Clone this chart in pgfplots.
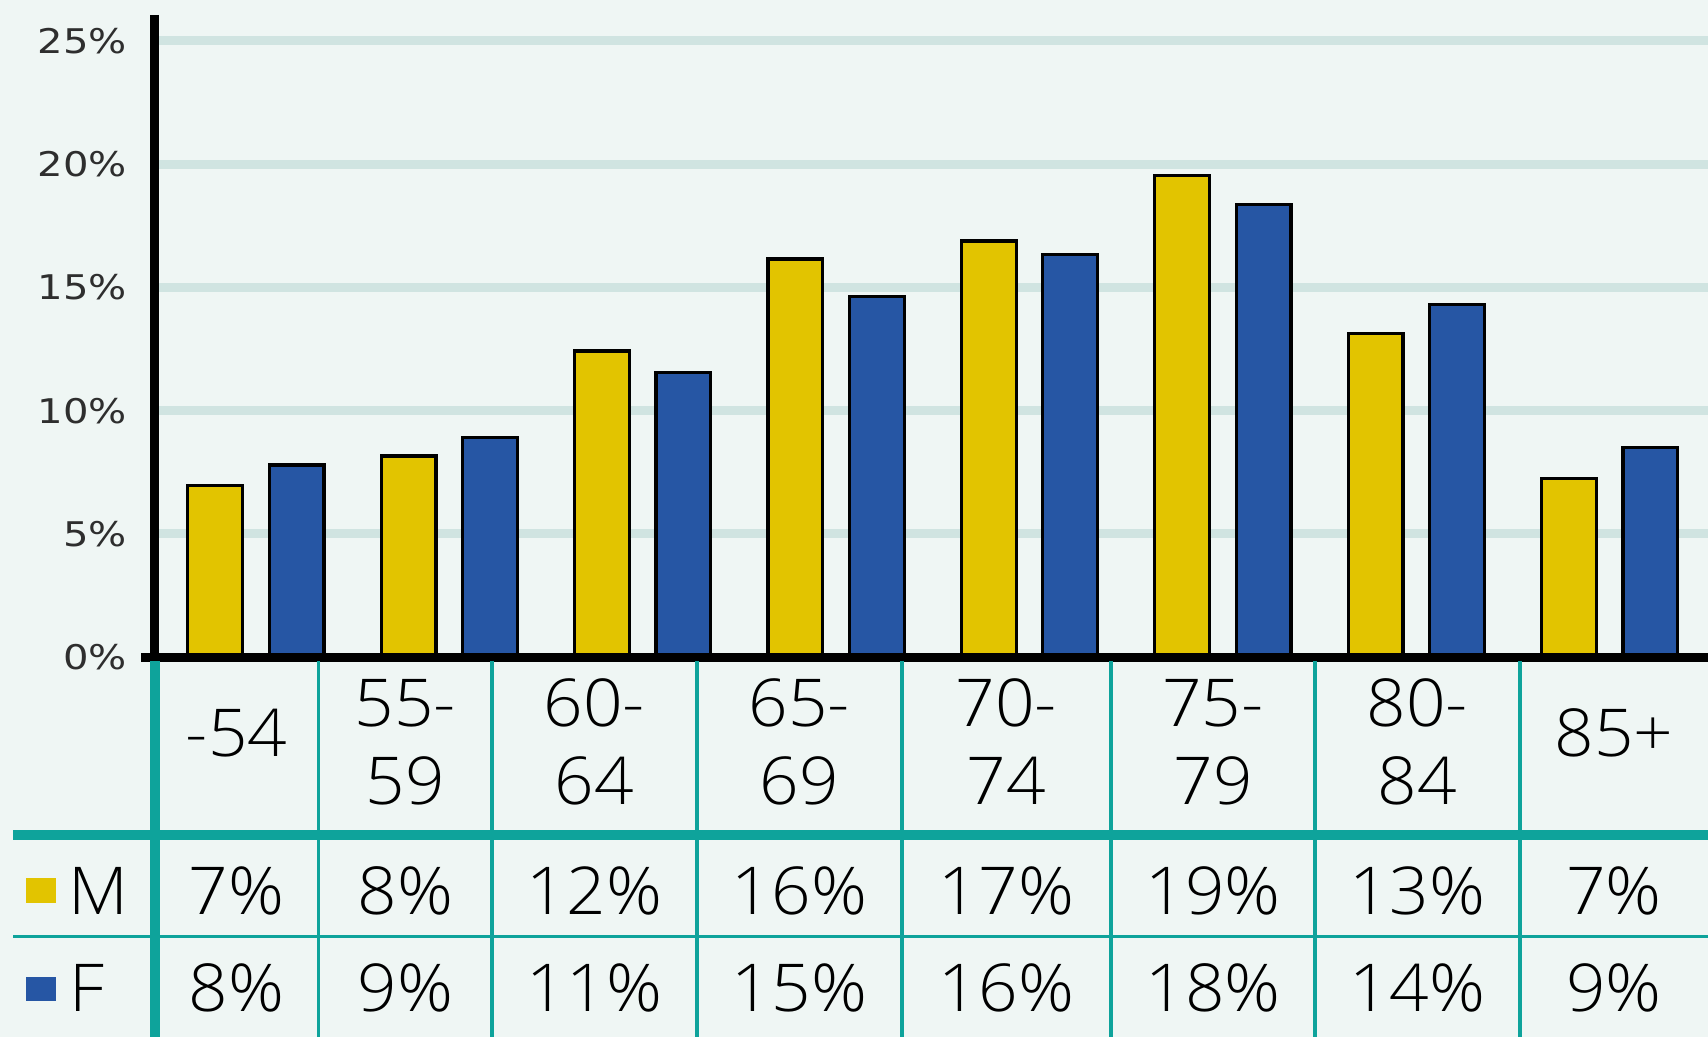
\documentclass[border=0pt]{standalone}
\usepackage{pgfplots}
\usepackage{pgfplotstable}
\pgfplotsset{compat=1.18}
\usepackage{fontspec}
\setmainfont{Open Sans}[UprightFont={* Light}, FakeStretch=1.05]
\newfontfamily\tickfont[FakeStretch=1.18]{DejaVu Sans}

\definecolor{bg}{HTML}{EFF6F4}
\definecolor{gridc}{HTML}{D0E4E1}
\definecolor{tealc}{HTML}{0EA39B}
\definecolor{myyellow}{HTML}{E2C400}
\definecolor{myblue}{HTML}{2656A4}
\definecolor{tickc}{HTML}{2E2E2E}

% share of each age group, per cent
\pgfplotstableread{
i  M      F
0  6.96   7.80
1  8.16   8.91
2  12.42  11.56
3  16.15  14.62
4  16.88  16.34
5  19.55  18.37
6  13.13  14.32
7  7.26   8.51
}\agedata

\newcommand{\tablefont}{\fontsize{33}{39}\selectfont}

\begin{document}
\begin{tikzpicture}
\path[use as bounding box, fill=bg] (0,0) rectangle (854pt,518.5pt);

\begin{axis}[
  at={(77.25pt,189.85pt)}, anchor=south west,
  scale only axis, width=776.75pt, height=320.58pt,
  xmin=-0.5248, xmax=7.508, ymin=0, ymax=26,
  axis line style={draw=none},
  major tick length=0pt,
  xtick=\empty,
  ytick={0,5,10,15,20,25},
  yticklabels={0\%,5\%,10\%,15\%,20\%,25\%},
  yticklabel style={anchor=east, inner sep=0pt, xshift=-13.5pt,
    font=\tickfont\fontsize{17}{20}\selectfont, text=tickc},
  ymajorgrids, grid style={line width=4.5pt, draw=gridc},
  ybar=13.3pt, bar width=27.4pt,
]
\addplot[fill=myyellow, draw=black, line width=1.6pt] table[x=i, y=M] {\agedata};
\addplot[fill=myblue, draw=black, line width=1.6pt] table[x=i, y=F] {\agedata};
\end{axis}

% axis lines and the table below the chart (units: 0.5pt, y downwards)
\begin{scope}[x=0.5pt, y=-0.5pt, shift={(0pt,518.5pt)}]
  \draw[black, line width=4.5pt] (154.5,15) -- (154.5,657.3);
  \draw[black, line width=4.5pt] (141,657.3) -- (1708,657.3);

  \draw[tealc, line width=5pt] (154.5,661.5) -- (154.5,1037);
  \draw[tealc, line width=5pt] (13,835) -- (1708,835);
  \draw[tealc, line width=1.5pt] (13,936.5) -- (1708,936.5);
  \foreach \xx in {318.5,492,697,902,1111,1315,1520}
    \draw[tealc, line width=1.6pt] (\xx,661.5) -- (\xx,1037);

  % age groups
  \node[anchor=base, inner sep=0pt, font=\tablefont] at (236.5,757) {-54};
  \node[anchor=base, inner sep=0pt, font=\tablefont] at (405.25,727) {55-};
  \node[anchor=base, inner sep=0pt, font=\tablefont] at (405.25,805) {59};
  \node[anchor=base, inner sep=0pt, font=\tablefont] at (594.5,727) {60-};
  \node[anchor=base, inner sep=0pt, font=\tablefont] at (594.5,805) {64};
  \node[anchor=base, inner sep=0pt, font=\tablefont] at (799.5,727) {65-};
  \node[anchor=base, inner sep=0pt, font=\tablefont] at (799.5,805) {69};
  \node[anchor=base, inner sep=0pt, font=\tablefont] at (1006.5,727) {70-};
  \node[anchor=base, inner sep=0pt, font=\tablefont] at (1006.5,805) {74};
  \node[anchor=base, inner sep=0pt, font=\tablefont] at (1213,727) {75-};
  \node[anchor=base, inner sep=0pt, font=\tablefont] at (1213,805) {79};
  \node[anchor=base, inner sep=0pt, font=\tablefont] at (1417.5,727) {80-};
  \node[anchor=base, inner sep=0pt, font=\tablefont] at (1417.5,805) {84};
  \node[anchor=base, inner sep=0pt, font=\tablefont] at (1614,757) {85+};

  % row keys
  \fill[myyellow] (26,878) rectangle (56,903);
  \fill[myblue] (26,977) rectangle (56,1001);
  \node[anchor=base west, inner sep=0pt, font=\tablefont] at (68,914.5) {M};
  \node[anchor=base west, inner sep=0pt, font=\tablefont] at (69,1012) {F};

  % rounded values
  \foreach \cx/\m/\f in {236.5/7/8, 405.25/8/9, 594.5/12/11, 799.5/16/15,
                         1006.5/17/16, 1213/19/18, 1417.5/13/14, 1614/7/9} {
    \node[anchor=base, inner sep=0pt, font=\tablefont] at (\cx,914.5) {\m\%};
    \node[anchor=base, inner sep=0pt, font=\tablefont] at (\cx,1012) {\f\%};
  }
\end{scope}
\end{tikzpicture}
\end{document}
